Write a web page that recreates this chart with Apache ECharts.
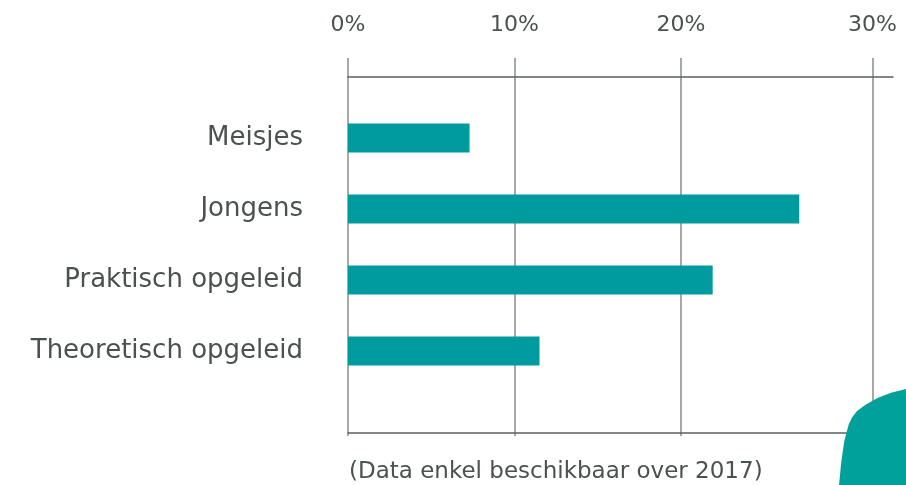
<!DOCTYPE html>
<html>
<head>
<meta charset="utf-8">
<title>Chart</title>
<script src="https://cdn.jsdelivr.net/npm/echarts@6/dist/echarts.min.js"></script>
<style>
  html, body { margin: 0; padding: 0; background: #fff; }
  #main { width: 906px; height: 485px; }
</style>
</head>
<body>
<div id="main"></div>
<script>
var categories = ['Meisjes', 'Jongens', 'Praktisch opgeleid', 'Theoretisch opgeleid']
var values = [7.3, 27.1, 21.9, 11.5]
// positie van de 30%-lijn ligt in het origineel iets verder naar rechts
var tickValues = [0, 10, 20, 31.5]
var tickLabels = ['0%', '10%', '20%', '30%']
var note = '(Data enkel beschikbaar over 2017)'

var font = '"DejaVu Sans", sans-serif'
var textColor = '#4b524e'
var teal = '#009b9e'

var chart = echarts.init(document.getElementById('main'))

var option = {
  animation: false,
  backgroundColor: '#fff',
  title: {
    text: note,
    left: 344,
    top: 456,
    textStyle: {
      fontFamily: font,
      fontSize: 23,
      fontWeight: 'normal',
      color: textColor
    }
  },
  grid: [
    // raster met de verticale lijnen
    { left: 348, right: 13, top: 58, bottom: 49 },
    // de balken
    { left: 348, right: 13, top: 102.5, height: 284 }
  ],
  xAxis: [
    {
      type: 'value',
      gridIndex: 0,
      position: 'top',
      min: 0,
      max: 32.73,
      axisLine: { show: false },
      axisTick: { show: false, customValues: tickValues },
      splitLine: {
        show: true,
        lineStyle: { color: '#8a8c8a', width: 1.5 }
      },
      axisLabel: {
        show: true,
        customValues: tickValues,
        margin: 22,
        fontFamily: font,
        fontSize: 22,
        color: textColor,
        formatter: function(v) {
          var i = tickValues.indexOf(v)
          return i >= 0 ? tickLabels[i] : ''
        }
      }
    },
    {
      type: 'value',
      gridIndex: 1,
      position: 'top',
      offset: 25.5,
      min: 0,
      max: 32.73,
      axisLine: { show: true, lineStyle: { color: '#5c625e', width: 1.5 } },
      axisTick: { show: false },
      axisLabel: { show: false },
      splitLine: { show: false }
    },
    {
      type: 'value',
      gridIndex: 1,
      position: 'bottom',
      offset: 46.5,
      min: 0,
      max: 32.73,
      axisLine: { show: true, lineStyle: { color: '#5c625e', width: 1.5 } },
      axisTick: { show: false },
      axisLabel: { show: false },
      splitLine: { show: false }
    }
  ],
  yAxis: [
    {
      type: 'category',
      gridIndex: 0,
      show: false,
      data: ['']
    },
    {
      type: 'category',
      gridIndex: 1,
      inverse: true,
      data: categories,
      axisLine: { show: false },
      axisTick: { show: false },
      splitLine: { show: false },
      axisLabel: {
        margin: 45,
        fontFamily: font,
        fontSize: 26,
        color: textColor
      }
    }
  ],
  series: [
    {
      type: 'bar',
      xAxisIndex: 1,
      yAxisIndex: 1,
      data: values,
      barWidth: 29,
      itemStyle: { color: teal },
      silent: true
    }
  ],
  graphic: [
    {
      // decoratieve vorm rechtsonder
      type: 'polygon',
      shape: {
        points: [
          [839, 485], [841.4, 460.7], [844.4, 440.4], [848.7, 424.4], [852, 417.5],
          [857, 411], [865.5, 404.8], [877.5, 398], [891, 392.8], [906, 389], [906, 485]
        ]
      },
      style: { fill: '#00a19a' },
      z: 100
    }
  ]
}

chart.setOption(option)
</script>
</body>
</html>
